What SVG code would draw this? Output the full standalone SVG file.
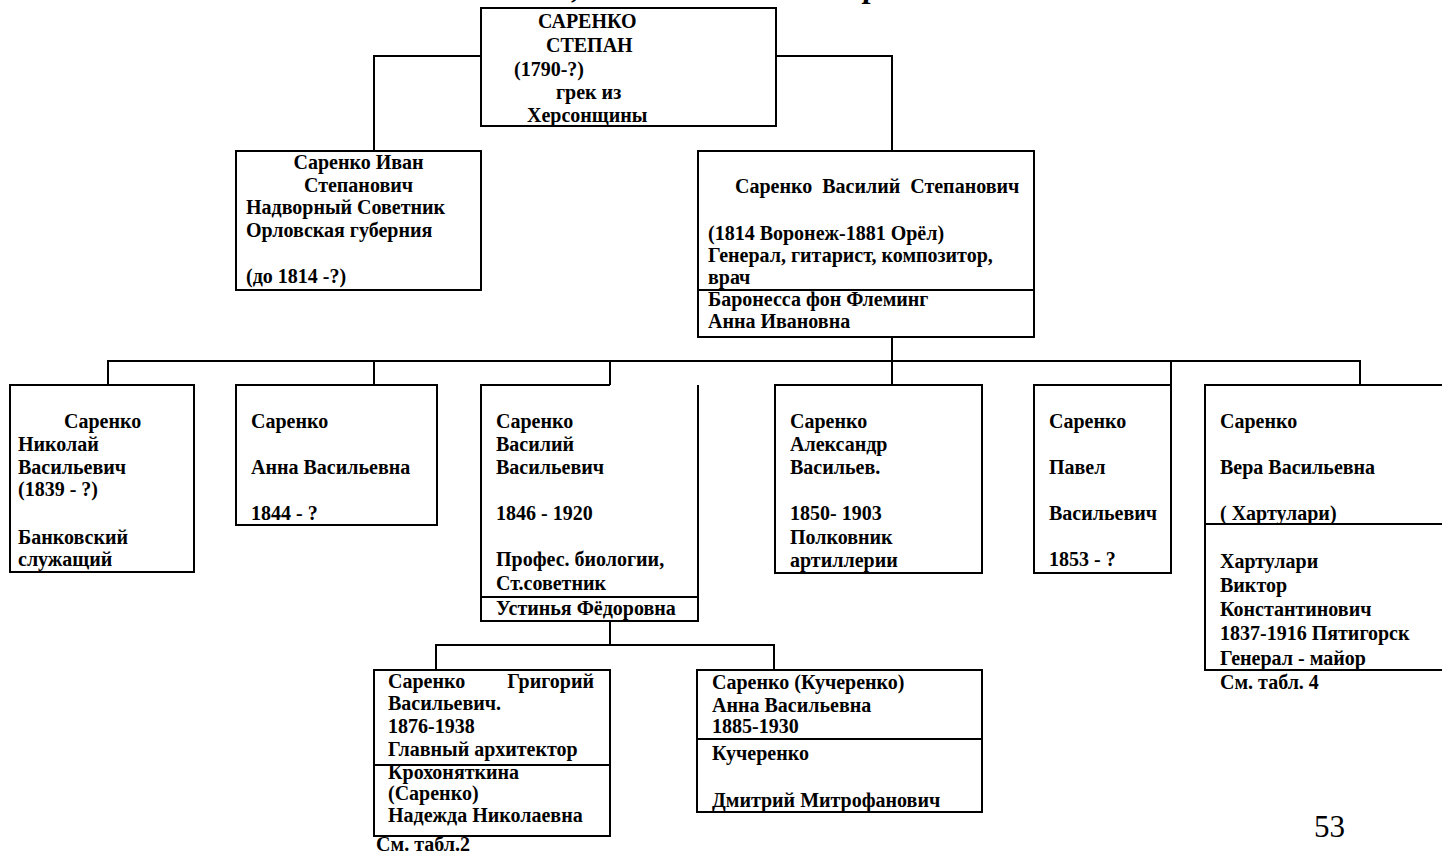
<svg xmlns="http://www.w3.org/2000/svg" width="1442" height="856" viewBox="0 0 1442 856">
<style>
.b{fill:none;stroke:#000;stroke-width:2}
.t{font-family:'Liberation Serif','DejaVu Serif',serif;font-weight:bold;font-size:20px;fill:#000}
.ti{font-family:'Liberation Serif','DejaVu Serif',serif;font-weight:bold;font-style:italic;font-size:32px;fill:#000}
.pg{font-family:'Liberation Serif','DejaVu Serif',serif;font-size:31px;fill:#000}
</style>
<rect width="1442" height="856" fill="#fff"/>
<g id="title-fragments">
<text class="ti" x="572" y="-2">,</text>
<text class="ti" x="864" y="-3">р</text>
</g>
<g id="connectors" class="b">
<path d="M481,56 H374 V151 M776,56 H892 V151"/>
<path d="M892,337 V361 M108,385 V361 H1360 V385 M374,361 V385 M610,361 V385 M892,361 V385 M1171,361 V385"/>
<path d="M610,621 V645 M436,670 V645 H774 V670"/>
</g>
<g id="n-stepan">
<rect class="b" x="481" y="8" width="295" height="118"/>
<text class="t" x="538" y="28">САРЕНКО</text>
<text class="t" x="546" y="52">СТЕПАН</text>
<text class="t" x="514" y="76">(1790-?)</text>
<text class="t" x="556" y="99">грек из</text>
<text class="t" x="527" y="122">Херсонщины</text>
</g>
<g id="n-ivan">
<rect class="b" x="236" y="151" width="245" height="139"/>
<text class="t" x="358.5" y="169" text-anchor="middle">Саренко Иван</text>
<text class="t" x="358.5" y="192" text-anchor="middle">Степанович</text>
<text class="t" x="246" y="214">Надворный Советник</text>
<text class="t" x="246" y="237">Орловская губерния</text>
<text class="t" x="246" y="283">(до 1814 -?)</text>
</g>
<g id="n-vasily-s">
<rect class="b" x="698" y="151" width="336" height="186"/>
<line class="b" x1="698" y1="290" x2="1034" y2="290"/>
<text class="t" x="735" y="193" xml:space="preserve">Саренко  Василий  Степанович</text>
<text class="t" x="708" y="240">(1814 Воронеж-1881 Орёл)</text>
<text class="t" x="708" y="262">Генерал, гитарист, композитор,</text>
<text class="t" x="708" y="284">врач</text>
<text class="t" x="708" y="306">Баронесса фон Флеминг</text>
<text class="t" x="708" y="328">Анна Ивановна</text>
</g>
<g id="n-nikolai">
<rect class="b" x="10" y="385" width="184" height="187"/>
<text class="t" x="64" y="428">Саренко</text>
<text class="t" x="18" y="451">Николай</text>
<text class="t" x="18" y="474">Васильевич</text>
<text class="t" x="18" y="496">(1839 - ?)</text>
<text class="t" x="18" y="544">Банковский</text>
<text class="t" x="18" y="566">служащий</text>
</g>
<g id="n-anna">
<rect class="b" x="236" y="385" width="201" height="140"/>
<text class="t" x="251" y="428">Саренко</text>
<text class="t" x="251" y="474">Анна Васильевна</text>
<text class="t" x="251" y="520">1844 - ?</text>
</g>
<g id="n-vasily-v">
<path class="b" d="M610,385 H481 V621 H698 V385"/>
<line class="b" x1="481" y1="597" x2="698" y2="597"/>
<text class="t" x="496" y="428">Саренко</text>
<text class="t" x="496" y="451">Василий</text>
<text class="t" x="496" y="474">Васильевич</text>
<text class="t" x="496" y="520">1846 - 1920</text>
<text class="t" x="496" y="566">Профес. биологии,</text>
<text class="t" x="496" y="590">Ст.советник</text>
<text class="t" x="496" y="615">Устинья Фёдоровна</text>
</g>
<g id="n-alexander">
<rect class="b" x="775" y="385" width="207" height="188"/>
<text class="t" x="790" y="428">Саренко</text>
<text class="t" x="790" y="451">Александр</text>
<text class="t" x="790" y="474">Васильев.</text>
<text class="t" x="790" y="520">1850- 1903</text>
<text class="t" x="790" y="544">Полковник</text>
<text class="t" x="790" y="567">артиллерии</text>
</g>
<g id="n-pavel">
<rect class="b" x="1034" y="385" width="137" height="188"/>
<text class="t" x="1049" y="428">Саренко</text>
<text class="t" x="1049" y="474">Павел</text>
<text class="t" x="1049" y="520">Васильевич</text>
<text class="t" x="1049" y="566">1853 - ?</text>
</g>
<g id="n-vera">
<rect class="b" x="1205" y="385" width="250" height="285"/>
<line class="b" x1="1205" y1="524" x2="1455" y2="524"/>
<text class="t" x="1220" y="428">Саренко</text>
<text class="t" x="1220" y="474">Вера Васильевна</text>
<text class="t" x="1220" y="520">( Хартулари)</text>
<text class="t" x="1220" y="568">Хартулари</text>
<text class="t" x="1220" y="592">Виктор</text>
<text class="t" x="1220" y="616">Константинович</text>
<text class="t" x="1220" y="640">1837-1916 Пятигорск</text>
<text class="t" x="1220" y="665">Генерал - майор</text>
<text class="t" x="1220" y="689">См. табл. 4</text>
</g>
<g id="n-grigory">
<rect class="b" x="374" y="670" width="236" height="166"/>
<line class="b" x1="374" y1="765" x2="610" y2="765"/>
<text class="t" x="388" y="688">Саренко</text>
<text class="t" x="594" y="688" text-anchor="end">Григорий</text>
<text class="t" x="388" y="710">Васильевич.</text>
<text class="t" x="388" y="733">1876-1938</text>
<text class="t" x="388" y="756">Главный архитектор</text>
<text class="t" x="388" y="779">Крохоняткина</text>
<text class="t" x="388" y="800">(Саренко)</text>
<text class="t" x="388" y="822">Надежда Николаевна</text>
<text class="t" x="423" y="851" text-anchor="middle">См. табл.2</text>
</g>
<g id="n-anna-k">
<rect class="b" x="697" y="670" width="285" height="142"/>
<line class="b" x1="697" y1="739" x2="982" y2="739"/>
<text class="t" x="712" y="689">Саренко (Кучеренко)</text>
<text class="t" x="712" y="712">Анна Васильевна</text>
<text class="t" x="712" y="733">1885-1930</text>
<text class="t" x="712" y="760">Кучеренко</text>
<text class="t" x="712" y="807">Дмитрий Митрофанович</text>
</g>
<text id="page-number" class="pg" x="1314" y="837">53</text>
</svg>
